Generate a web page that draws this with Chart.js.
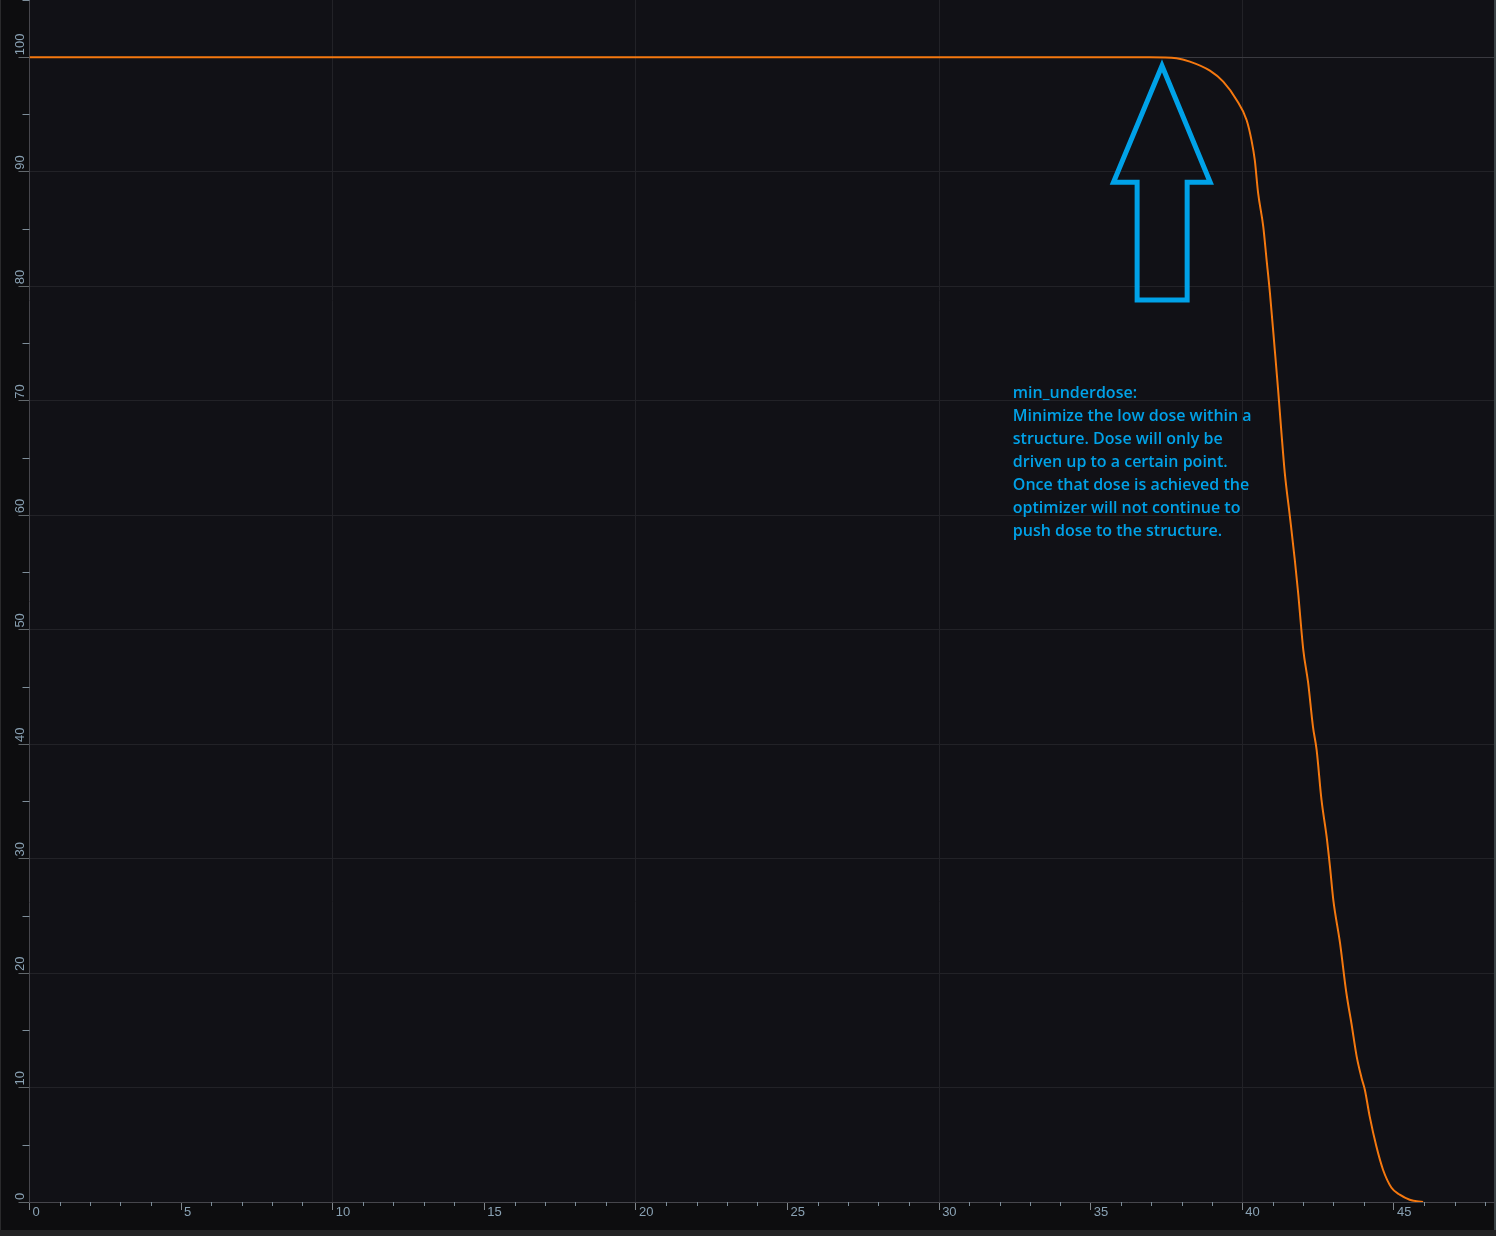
<!DOCTYPE html>
<html>
<head>
<meta charset="utf-8">
<script src="https://cdn.jsdelivr.net/npm/chart.js@4.4.1/dist/chart.umd.min.js"></script>
<style>
  html, body { margin: 0; padding: 0; background: #0d0d0f; }
  canvas { display: block; }
</style>
</head>
<body>
<canvas id="c" width="1496" height="1236"></canvas>
<script>
// ---- data (dose in Gy vs. volume %) ----
const doseValues = [0, 36.95, 37.83, 38.27, 38.93, 39.37, 39.81, 40.14, 40.30, 40.41, 40.52, 40.69, 40.80, 40.91, 41.07, 41.18, 41.29, 41.40, 41.57, 41.73, 41.84, 42.01, 42.17, 42.33, 42.45, 42.61, 42.78, 42.89, 43.00, 43.22, 43.43, 43.60, 43.77, 43.93, 44.04, 44.20, 44.42, 44.64, 44.92, 45.19, 45.52, 45.96];
const volumeValues = [100, 100, 99.91, 99.62, 98.83, 97.87, 96.27, 94.52, 92.78, 91.03, 88.15, 85.21, 82.30, 79.42, 74.44, 70.94, 67.19, 63.70, 59.85, 56.10, 53.22, 48.24, 45.36, 41.51, 39.50, 35.14, 31.91, 29.29, 26.40, 22.65, 18.28, 15.57, 12.72, 10.86, 9.81, 7.48, 4.86, 2.82, 1.25, 0.64, 0.20, 0];

// annotation arrow outline (data coordinates, closed path)
const arrowX = [37.355, 38.18, 38.18, 38.94, 37.35, 35.75, 36.53, 36.53, 37.355];
const arrowY = [78.80, 78.80, 89.08, 89.08, 99.25, 89.08, 89.08, 78.80, 78.80];

const annotationLines = [
  'min_underdose:',
  'Minimize the low dose within a',
  'structure. Dose will only be',
  'driven up to a certain point.',
  'Once that dose is achieved the',
  'optimizer will not continue to',
  'push dose to the structure.'
];
const annotationAnchor = { x: 32.43, y: 70.22 };

const xMin = 0, xMax = 48.3, xStep = 5;
const yMin = 0, yMax = 105, yStep = 10;

// ---- styles ----
const tickFontFamily = '"Liberation Sans", Arial, sans-serif';
const tickFont = { family: tickFontFamily, size: 13 };
const tickColor = '#8aa2b4';
const gridColor = '#222227';

const bgPlugin = {
  id: 'bg',
  beforeDraw(chart) {
    const { ctx, chartArea: a, width, height } = chart;
    ctx.save();
    ctx.fillStyle = '#0d0d0f';
    ctx.fillRect(0, 0, width, height);
    ctx.fillStyle = '#111116';
    ctx.fillRect(a.left, a.top, a.right - a.left, a.bottom - a.top);
    ctx.fillStyle = '#232325';
    ctx.fillRect(0, height - 6, width, 6);
    ctx.fillStyle = '#2a2a2c';
    ctx.fillRect(0, 0, 1, height - 6);
    ctx.fillStyle = '#3c4447';
    ctx.fillRect(a.right, 0, width - a.right, height - 6);
    ctx.restore();
  }
};

const axisExtras = {
  id: 'axisExtras',
  afterDraw(chart) {
    const { ctx, scales: { x, y }, chartArea: a } = chart;
    ctx.save();
    // minor ticks
    ctx.lineWidth = 1;
    ctx.strokeStyle = '#7e8e9a';
    ctx.beginPath();
    for (let v = 1; v <= Math.floor(xMax); v++) {
      if (v % xStep === 0) continue;
      const px = Math.round(x.getPixelForValue(v)) + 0.5;
      ctx.moveTo(px, a.bottom);
      ctx.lineTo(px, a.bottom + 4);
    }
    for (let v = 5; v <= yMax; v += 10) {
      const py = Math.round(y.getPixelForValue(v)) + 0.5;
      ctx.moveTo(a.left - 7, py);
      ctx.lineTo(a.left, py);
    }
    ctx.stroke();
    // rotated y tick labels, reading upward from each tick
    ctx.fillStyle = tickColor;
    ctx.font = '13px ' + tickFontFamily;
    ctx.textAlign = 'left';
    ctx.textBaseline = 'middle';
    y.ticks.forEach(t => {
      const py = y.getPixelForValue(t.value);
      ctx.save();
      ctx.translate(a.left - 9.5, py - 2);
      ctx.rotate(-Math.PI / 2);
      ctx.fillText(String(t.value), 0, 0);
      ctx.restore();
    });
    ctx.restore();
  }
};

const textPlugin = {
  id: 'noteText',
  afterDatasetsDraw(chart) {
    const { ctx, scales: { x, y } } = chart;
    const px = x.getPixelForValue(annotationAnchor.x);
    const py = y.getPixelForValue(annotationAnchor.y);
    ctx.save();
    ctx.fillStyle = '#00a2e8';
    ctx.font = '600 16px "Open Sans", "Noto Sans", sans-serif';
    ctx.textBaseline = 'alphabetic';
    ctx.textAlign = 'left';
    annotationLines.forEach((t, i) => ctx.fillText(t, px, py + i * 22.9));
    ctx.restore();
  }
};

new Chart(document.getElementById('c'), {
  type: 'line',
  data: {
    datasets: [
      {
        label: 'arrow',
        data: arrowX.map((v, i) => ({ x: v, y: arrowY[i] })),
        borderColor: '#00a2e8',
        borderWidth: 5,
        borderJoinStyle: 'miter',
        pointRadius: 0,
        fill: false,
        tension: 0
      },
      {
        label: 'DVH',
        data: doseValues.map((v, i) => ({ x: v, y: volumeValues[i] })),
        borderColor: '#f5780f',
        borderWidth: 2,
        pointRadius: 0,
        fill: false,
        cubicInterpolationMode: 'monotone'
      }
    ]
  },
  options: {
    responsive: false,
    animation: false,
    devicePixelRatio: 1,
    events: [],
    layout: { padding: { left: 20, right: 2, top: 0, bottom: 0 } },
    plugins: { legend: { display: false }, tooltip: { enabled: false } },
    scales: {
      x: {
        type: 'linear', position: 'bottom', min: xMin, max: xMax,
        ticks: {
          stepSize: xStep, includeBounds: false, align: 'start', labelOffset: 3,
          padding: -5, maxRotation: 0, autoSkip: false, font: tickFont, color: tickColor
        },
        grid: {
          color: ctx => (ctx.tick && ctx.tick.value % 10 === 0 && ctx.tick.value !== 0) ? gridColor : 'rgba(0,0,0,0)',
          tickLength: 8,
          tickColor: '#80868c',
          lineWidth: 1
        },
        border: { color: '#46464c' },
        afterFit(s) { s.height = 34; s.paddingLeft = 0; s.paddingRight = 0; }
      },
      y: {
        type: 'linear', position: 'left', min: yMin, max: yMax,
        ticks: {
          stepSize: yStep, includeBounds: false, display: false
        },
        grid: {
          color: ctx => (ctx.tick && ctx.tick.value === 100) ? '#3a3a40' : gridColor,
          tickLength: 11,
          tickColor: '#62686c',
          lineWidth: 1
        },
        border: { color: '#46464c' },
        afterFit(s) { s.width = 9.5; s.paddingTop = 0; s.paddingBottom = 0; }
      }
    }
  },
  plugins: [bgPlugin, axisExtras, textPlugin]
});
</script>
</body>
</html>
